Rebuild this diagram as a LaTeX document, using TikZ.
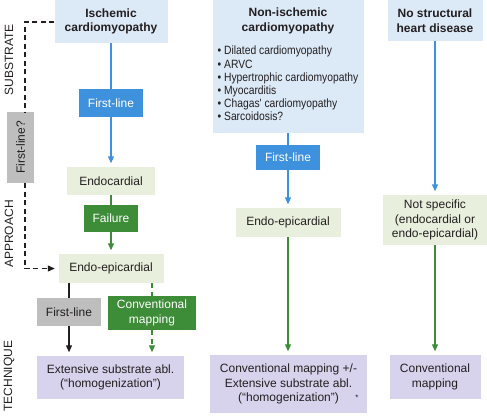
\documentclass[tikz,border=0pt]{standalone}
\usepackage{fontspec}
\setmainfont{Liberation Sans}
\newfontfamily\narrowsans[FakeStretch=0.86]{Liberation Sans}
\usepackage{xcolor}
\usetikzlibrary{arrows.meta,positioning}
\definecolor{inkgray}{RGB}{35,31,32}
\definecolor{subblue}{RGB}{220,233,247}
\definecolor{lineblue}{RGB}{62,145,220}
\definecolor{apprgreen}{RGB}{232,239,221}
\definecolor{darkgreen}{RGB}{61,140,56}
\definecolor{boxgray}{RGB}{190,190,190}
\definecolor{techpurple}{RGB}{216,211,236}

\begin{document}
\begin{tikzpicture}[x=1pt, y=-1pt,
  box/.style={inner sep=0pt, align=center, text=inkgray,
    font=\fontsize{12}{14.5}\selectfont},
  subst/.style={box, fill=subblue, font=\fontsize{12}{14.5}\selectfont\bfseries},
  appr/.style={box, fill=apprgreen},
  tech/.style={box, fill=techpurple},
  bluebox/.style={box, fill=lineblue, text=white},
  greenbox/.style={box, fill=darkgreen, text=white},
  graybox/.style={box, fill=boxgray},
  side/.style={rotate=90, inner sep=0pt, text=inkgray,
    font=\fontsize{12}{14.5}\selectfont},
  link/.style={line width=1.2pt},
  tip/.style={-{Triangle[width=6pt,length=7pt]}, shorten >=3.5pt},
  dashlink/.style={link, dash pattern=on 5pt off 3.5pt}]
  \useasboundingbox (0,0) rectangle (487,415);

  % Row labels
  \node[side] (lsub) at (9,60) {SUBSTRATE};
  \node[side] (lapp) at (9,234) {APPROACH};
  \node[side] (ltec) at (9,376) {TECHNIQUE};

  % Column 1: ischemic
  \node[subst, minimum width=113pt, minimum height=43pt] (isch) at (111,21.5)
    {Ischemic\\cardiomyopathy};
  \node[bluebox, minimum width=64pt, minimum height=28pt] (fl1) at (111,103)
    {First-line};
  \node[appr, minimum width=88pt, minimum height=28pt] (endo) at (111,181)
    {Endocardial};
  \node[greenbox, minimum width=54pt, minimum height=27pt] (fail) at (111,218.5)
    {Failure};
  \node[appr, minimum width=105pt, minimum height=29pt] (epi) at (111,268.5)
    {Endo-epicardial};
  \node[graybox, minimum width=64pt, minimum height=28pt] (flg) at (69,312)
    {First-line};
  \node[greenbox, minimum width=88pt, minimum height=34pt] (conv1) at (152,313)
    {Conventional\\mapping};
  \node[tech, minimum width=147pt, minimum height=43pt] (ext1) at (110.5,377.5)
    {Extensive substrate abl.\\(``homogenization'')};
  \node[graybox, minimum width=27pt, minimum height=71pt] (flq)
    at (20.5,147.5) {\rotatebox{90}{First-line?}};

  \draw[lineblue, link] (isch) -- (fl1);
  \draw[lineblue, link, tip] (fl1) -- (endo);
  \draw[darkgreen, link] (endo) -- (fail);
  \draw[darkgreen, link, tip] (fail) -- (epi);
  \draw[inkgray, link] (epi.south -| flg) -- (flg);
  \draw[inkgray, link, tip] (flg) -- (flg |- ext1.north);
  \draw[darkgreen, dashlink] (epi.south -| conv1) -- (conv1);
  \draw[darkgreen, dashlink, tip] (conv1) -- (conv1 |- ext1.north);

  % dashed bypass to endo-epicardial
  \coordinate (dtop) at (25,22);
  \draw[inkgray, dashlink] (isch.west |- dtop) -- (dtop) -- (dtop |- flq.north);
  \draw[inkgray, dashlink, tip] (dtop |- flq.south) |- (epi.west);

  % Column 2: non-ischemic
  \node[subst, minimum width=151pt, minimum height=133pt] (nonisch) at (288,66.5)
    {Non-ischemic\\cardiomyopathy\\[11pt]
     {\normalfont\narrowsans\fontsize{12}{13.2}\selectfont
      \begin{tabular}{@{}l@{}}
        \textbullet\ Dilated cardiomyopathy\\
        \textbullet\ ARVC\\
        \textbullet\ Hypertrophic cardiomyopathy\\
        \textbullet\ Myocarditis\\
        \textbullet\ Chagas' cardiomyopathy\\
        \textbullet\ Sarcoidosis?
      \end{tabular}}};
  \node[bluebox, minimum width=64pt, minimum height=25pt] (fl2) at (288,157.5)
    {First-line};
  \node[appr, minimum width=105pt, minimum height=29pt] (epi2) at (288,222.5)
    {Endo-epicardial};
  \node[tech, minimum width=157pt, minimum height=58pt] (ext2) at (288.5,384)
    {Conventional mapping +/-\\Extensive substrate abl.\\(``homogenization'')};
  \node[inner sep=0pt, text=inkgray, font=\footnotesize] (ast)
    at (357,398) {*};

  \draw[lineblue, link] (nonisch) -- (fl2);
  \draw[lineblue, link, tip] (fl2) -- (epi2);
  \draw[darkgreen, link, tip] (epi2) -- (epi2 |- ext2.north);

  % Column 3: no structural heart disease
  \node[subst, minimum width=95pt, minimum height=41pt] (nostr) at (435,20.5)
    {No structural\\heart disease};
  \node[appr, minimum width=104pt, minimum height=50pt] (notsp) at (435,220)
    {Not specific\\(endocardial or\\endo-epicardial)};
  \node[tech, minimum width=91pt, minimum height=44pt] (conv2) at (435,377)
    {Conventional\\mapping};

  \draw[lineblue, link, tip] (nostr) -- (notsp);
  \draw[darkgreen, link, tip] (notsp) -- (conv2);
\end{tikzpicture}
\end{document}
